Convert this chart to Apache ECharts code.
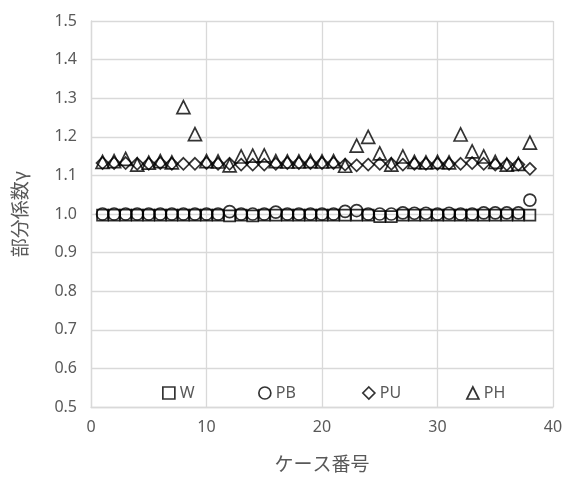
<!DOCTYPE html>
<html>
<head>
<meta charset="utf-8">
<script src="https://cdn.jsdelivr.net/npm/echarts@6/dist/echarts.min.js"></script>
<style>html,body{margin:0;padding:0;background:#fff;}#c{width:566px;height:479px;}</style>
</head>
<body>
<div id="c"></div>
<script>
var caseNo = [1,2,3,4,5,6,7,8,9,10,11,12,13,14,15,16,17,18,19,20,21,22,23,24,25,26,27,28,29,30,31,32,33,34,35,36,37,38];
var W  = [0.997,0.997,0.997,0.997,0.997,0.997,0.997,0.997,0.997,0.997,0.997,0.995,0.997,0.995,0.997,0.997,0.997,0.997,0.997,0.997,0.997,0.997,0.997,0.997,0.993,0.993,0.997,0.997,0.997,0.997,0.997,0.997,0.997,0.997,0.997,0.997,0.997,0.997];
var PB = [1.0,1.0,1.0,1.0,1.0,1.0,1.0,1.0,1.0,1.0,1.0,1.006,1.0,1.0,1.0,1.005,1.0,1.0,1.0,1.0,1.0,1.007,1.009,1.0,1.0,1.0,1.003,1.002,1.002,1.0,1.002,1.0,1.0,1.003,1.003,1.003,1.003,1.036];
var PU = [1.132,1.132,1.132,1.13,1.13,1.132,1.13,1.13,1.13,1.132,1.13,1.13,1.128,1.128,1.128,1.13,1.132,1.132,1.132,1.132,1.132,1.128,1.126,1.128,1.13,1.13,1.128,1.13,1.13,1.13,1.13,1.13,1.132,1.13,1.128,1.128,1.128,1.117];
var PH = [1.135,1.137,1.143,1.128,1.133,1.137,1.134,1.277,1.207,1.137,1.136,1.126,1.149,1.151,1.152,1.137,1.136,1.136,1.137,1.136,1.137,1.125,1.177,1.2,1.157,1.128,1.149,1.135,1.134,1.135,1.134,1.206,1.162,1.149,1.135,1.128,1.13,1.185];
var yTicks = ['0.5','0.6','0.7','0.8','0.9','1.0','1.1','1.2','1.3','1.4','1.5'];
var xTicks = ['0','10','20','30','40'];

function pairs(arr){ return arr.map(function(v,i){ return [caseNo[i], v]; }); }
var names = ['W','PB','PU','PH'];
var vals = [W, PB, PU, PH];
var symbols = ['rect','circle','diamond','triangle'];
var sizes = [11, 12, 12, 13];
var legendLeft = [157, 253, 357, 461];

var textColor = '#595959';
var gridColor = '#d9d9d9';
var numFont = 'Noto Sans';

var series = names.map(function(n,i){
  return {
    name: n, type: 'scatter', data: pairs(vals[i]),
    symbol: symbols[i], symbolSize: sizes[i],
    itemStyle: { color: 'rgba(255,255,255,0)', borderColor: '#000', borderWidth: 1.7 },
    emphasis: { disabled: true }, animation: false
  };
});
var legends = names.map(function(n,i){
  return {
    data: [n], left: legendLeft[i], top: 380, itemWidth: 12, itemHeight: 12, itemGap: 5,
    icon: symbols[i],
    textStyle: { color: textColor, fontSize: 16, fontFamily: numFont },
    itemStyle: { color: 'rgba(255,255,255,0)', borderColor: '#000', borderWidth: 1.7 },
    selectedMode: false
  };
});

var chart = echarts.init(document.getElementById('c'));
chart.setOption({
  animation: false,
  backgroundColor: '#fff',
  grid: { left: 91, right: 13, top: 21, bottom: 72, containLabel: false },
  legend: legends,
  xAxis: {
    type: 'value', min: 0, max: 40, interval: 10,
    name: 'ケース番号', nameLocation: 'middle', nameGap: 47,
    nameTextStyle: { color: textColor, fontSize: 19, fontFamily: 'Noto Sans CJK JP' },
    axisLine: { show: true, lineStyle: { color: gridColor, width: 1.3 } },
    axisTick: { show: false },
    axisLabel: { color: textColor, fontSize: 16, fontFamily: numFont, margin: 12,
      formatter: function(v){ return xTicks[Math.round(v/10)]; } },
    splitLine: { show: true, lineStyle: { color: gridColor, width: 1.3 } }
  },
  yAxis: {
    type: 'value', min: 0.5, max: 1.5, interval: 0.1,
    name: '部分係数γ', nameLocation: 'middle', nameGap: 62, nameRotate: 90,
    nameTextStyle: { color: textColor, fontSize: 19, fontFamily: 'Noto Sans CJK JP' },
    axisLine: { show: true, lineStyle: { color: gridColor, width: 1.3 } },
    axisTick: { show: false },
    axisLabel: { color: textColor, fontSize: 16, fontFamily: numFont, margin: 14,
      formatter: function(v){ return yTicks[Math.round((v-0.5)*10)]; } },
    splitLine: { show: true, lineStyle: { color: gridColor, width: 1.3 } }
  },
  series: series
});
</script>
</body>
</html>
